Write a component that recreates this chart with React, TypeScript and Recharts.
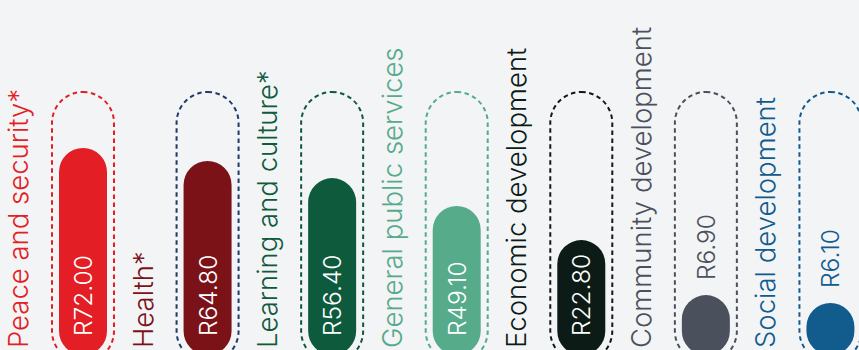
import React from 'react';
import { BarChart, Bar, XAxis, YAxis, LabelList, Cell } from 'recharts';

const categories = [
  'Peace and security*',
  'Health*',
  'Learning and culture*',
  'General public services',
  'Economic development',
  'Community development',
  'Social development',
];
const amounts = [72.0, 64.8, 56.4, 49.1, 22.8, 6.9, 6.1];
// visual fill level of each pill (% of track)
const barLevels = [80.9, 75.8, 69.1, 58.2, 44.9, 23.4, 20.3];
const trackMax = 100;
const barColors = ['#e31e25', '#7b1218', '#0d5a3c', '#55ab8a', '#0c1b16', '#4a505c', '#115b8d'];
const trackColors = ['#e31e25', '#1d3b6c', '#0d5a3c', '#55ab8a', '#0c1b16', '#4a505c', '#115b8d'];
const labelColors = ['#e31e25', '#7b1218', '#0d5a3c', '#55ab8a', '#0c1b16', '#4a505c', '#115b8d'];

const data = categories.map((name, i) => ({
  name,
  amount: amounts[i],
  level: barLevels[i],
}));

const FONT = 'Inter, sans-serif';

const renderTrack = (p: any) => {
  const pad = 7;
  const x = p.x - pad;
  const y = p.y - pad;
  const w = p.width + pad * 2;
  const h = p.height + pad * 2;
  return (
    <rect
      key={`track-${p.index}`}
      x={x}
      y={y}
      width={w}
      height={h}
      rx={w / 2}
      ry={w / 2}
      fill="none"
      stroke={trackColors[p.index]}
      strokeWidth={2}
      strokeDasharray="4.5 3.5"
    />
  );
};

const renderCategory = (p: any) => {
  const cx = p.x + p.width / 2;
  const tx = cx - 55;
  const ty = 348;
  return (
    <text
      key={`cat-${p.index}`}
      x={tx}
      y={ty}
      transform={`rotate(-90 ${tx} ${ty})`}
      textAnchor="start"
      fontFamily={FONT}
      fontWeight={300}
      fontSize={27.5}
      fill={labelColors[p.index]}
    >
      {p.value}
    </text>
  );
};

const renderValue = (p: any) => {
  const cx = p.x + p.width / 2;
  const tx = cx + 9;
  const inside = barLevels[p.index] > 30;
  const ty = inside ? 336 : p.y - 15;
  return (
    <text
      key={`val-${p.index}`}
      x={tx}
      y={ty}
      transform={`rotate(-90 ${tx} ${ty})`}
      textAnchor="start"
      fontFamily={FONT}
      fontWeight={300}
      fontSize={24.5}
      fill={inside ? '#ffffff' : barColors[p.index]}
    >
      {`R${Number(p.value).toFixed(2)}`}
    </text>
  );
};

export default function App() {
  return (
    <div
      style={{
        position: 'absolute',
        left: 0,
        top: 0,
        width: 859,
        height: 350,
        overflow: 'hidden',
        background: '#f3f4f6',
      }}
    >
      <BarChart
        width={893}
        height={355}
        data={data}
        margin={{ top: 99, right: 0, bottom: 0, left: 21 }}
      >
        <XAxis dataKey="name" hide />
        <YAxis hide domain={[0, trackMax]} />
        <Bar
          dataKey="level"
          barSize={48}
          radius={24}
          background={renderTrack}
          isAnimationActive={false}
        >
          {data.map((d, i) => (
            <Cell key={d.name} fill={barColors[i]} />
          ))}
          <LabelList dataKey="name" content={renderCategory} />
          <LabelList dataKey="amount" content={renderValue} />
        </Bar>
      </BarChart>
    </div>
  );
}
